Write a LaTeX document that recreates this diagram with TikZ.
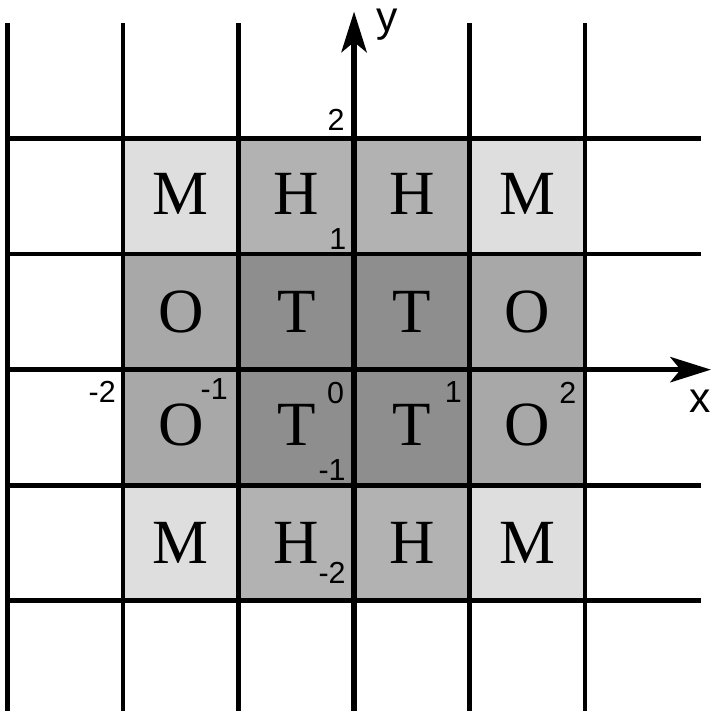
\documentclass[tikz,border=0pt]{standalone}
\usepackage{fontspec}
\setmainfont{Liberation Serif}
\newfontfamily\axfont{Liberation Sans}
\usetikzlibrary{arrows.meta}
\definecolor{cM}{HTML}{DEDEDE}
\definecolor{cH}{HTML}{B2B2B2}
\definecolor{cO}{HTML}{A8A8A8}
\definecolor{cT}{HTML}{8E8E8E}
\tikzset{
  gridline/.style={line width=1.15pt, black},
  axisline/.style={line width=1.4pt, black, -{Stealth[length=10pt,width=6.2pt,inset=2.5pt]}},
  letter/.style={font=\fontsize{15.5}{16}\selectfont, inner sep=0pt},
  tick/.style={font=\axfont\fontsize{7.5}{8}\selectfont, inner sep=0pt},
  axname/.style={font=\axfont\fontsize{10.5}{11}\selectfont, inner sep=0pt},
}
\begin{document}
\begin{tikzpicture}
\useasboundingbox (-3.065,-2.95) rectangle (3.09,3.2);
% cell fills
\foreach \x/\y/\c in {-2/1/cM,-1/1/cH,0/1/cH,1/1/cM,
                      -2/0/cO,-1/0/cT,0/0/cT,1/0/cO,
                      -2/-1/cO,-1/-1/cT,0/-1/cT,1/-1/cO,
                      -2/-2/cM,-1/-2/cH,0/-2/cH,1/-2/cM}
  \fill[\c] (\x,\y) rectangle ++(1,1);
% grid
\foreach \x in {-3,-2,-1,1,2}
  \draw[gridline] (\x,3) -- (\x,-3.2);
\foreach \y in {-2,-1,1,2}
  \draw[gridline] (-3,\y) -- (3,\y);
% axes
\coordinate (xs) at (-3,0);
\coordinate (xe) at (3.09,0);
\coordinate (ys) at (0,-3.2);
\coordinate (ye) at (0,3.1);
\draw[axisline] (xs) -- (xe);
\draw[axisline] (ys) -- (ye);
\node[axname] (xl) at (3.0,-0.27) {x};
\node[axname] (yl) at (0.29,2.99) {y};
% letters
\node[letter] (m1) at (-1.5,1.52) {M};
\node[letter] (h1) at (-0.5,1.52) {H};
\node[letter] (h2) at (0.5,1.52) {H};
\node[letter] (m2) at (1.5,1.52) {M};
\node[letter] (o1) at (-1.5,0.5) {O};
\node[letter] (t1) at (-0.5,0.5) {T};
\node[letter] (t2) at (0.5,0.5) {T};
\node[letter] (o2) at (1.5,0.5) {O};
\node[letter] (o3) at (-1.5,-0.48) {O};
\node[letter] (t3) at (-0.5,-0.48) {T};
\node[letter] (t4) at (0.5,-0.48) {T};
\node[letter] (o4) at (1.5,-0.48) {O};
\node[letter] (m3) at (-1.5,-1.5) {M};
\node[letter] (h3) at (-0.5,-1.5) {H};
\node[letter] (h4) at (0.5,-1.5) {H};
\node[letter] (m4) at (1.5,-1.5) {M};
% tick labels
\node[tick] (ty2) at (-0.155,2.16) {2};
\node[tick] (ty1) at (-0.14,1.13) {1};
\node[tick] (tyn1) at (-0.19,-0.87) {-1};
\node[tick] (tyn2) at (-0.19,-1.76) {-2};
\node[tick] (txn2) at (-2.18,-0.19) {-2};
\node[tick] (txn1) at (-1.21,-0.17) {-1};
\node[tick] (tx0) at (-0.16,-0.2) {0};
\node[tick] (tx1) at (0.86,-0.19) {1};
\node[tick] (tx2) at (1.85,-0.2) {2};
\end{tikzpicture}
\end{document}
